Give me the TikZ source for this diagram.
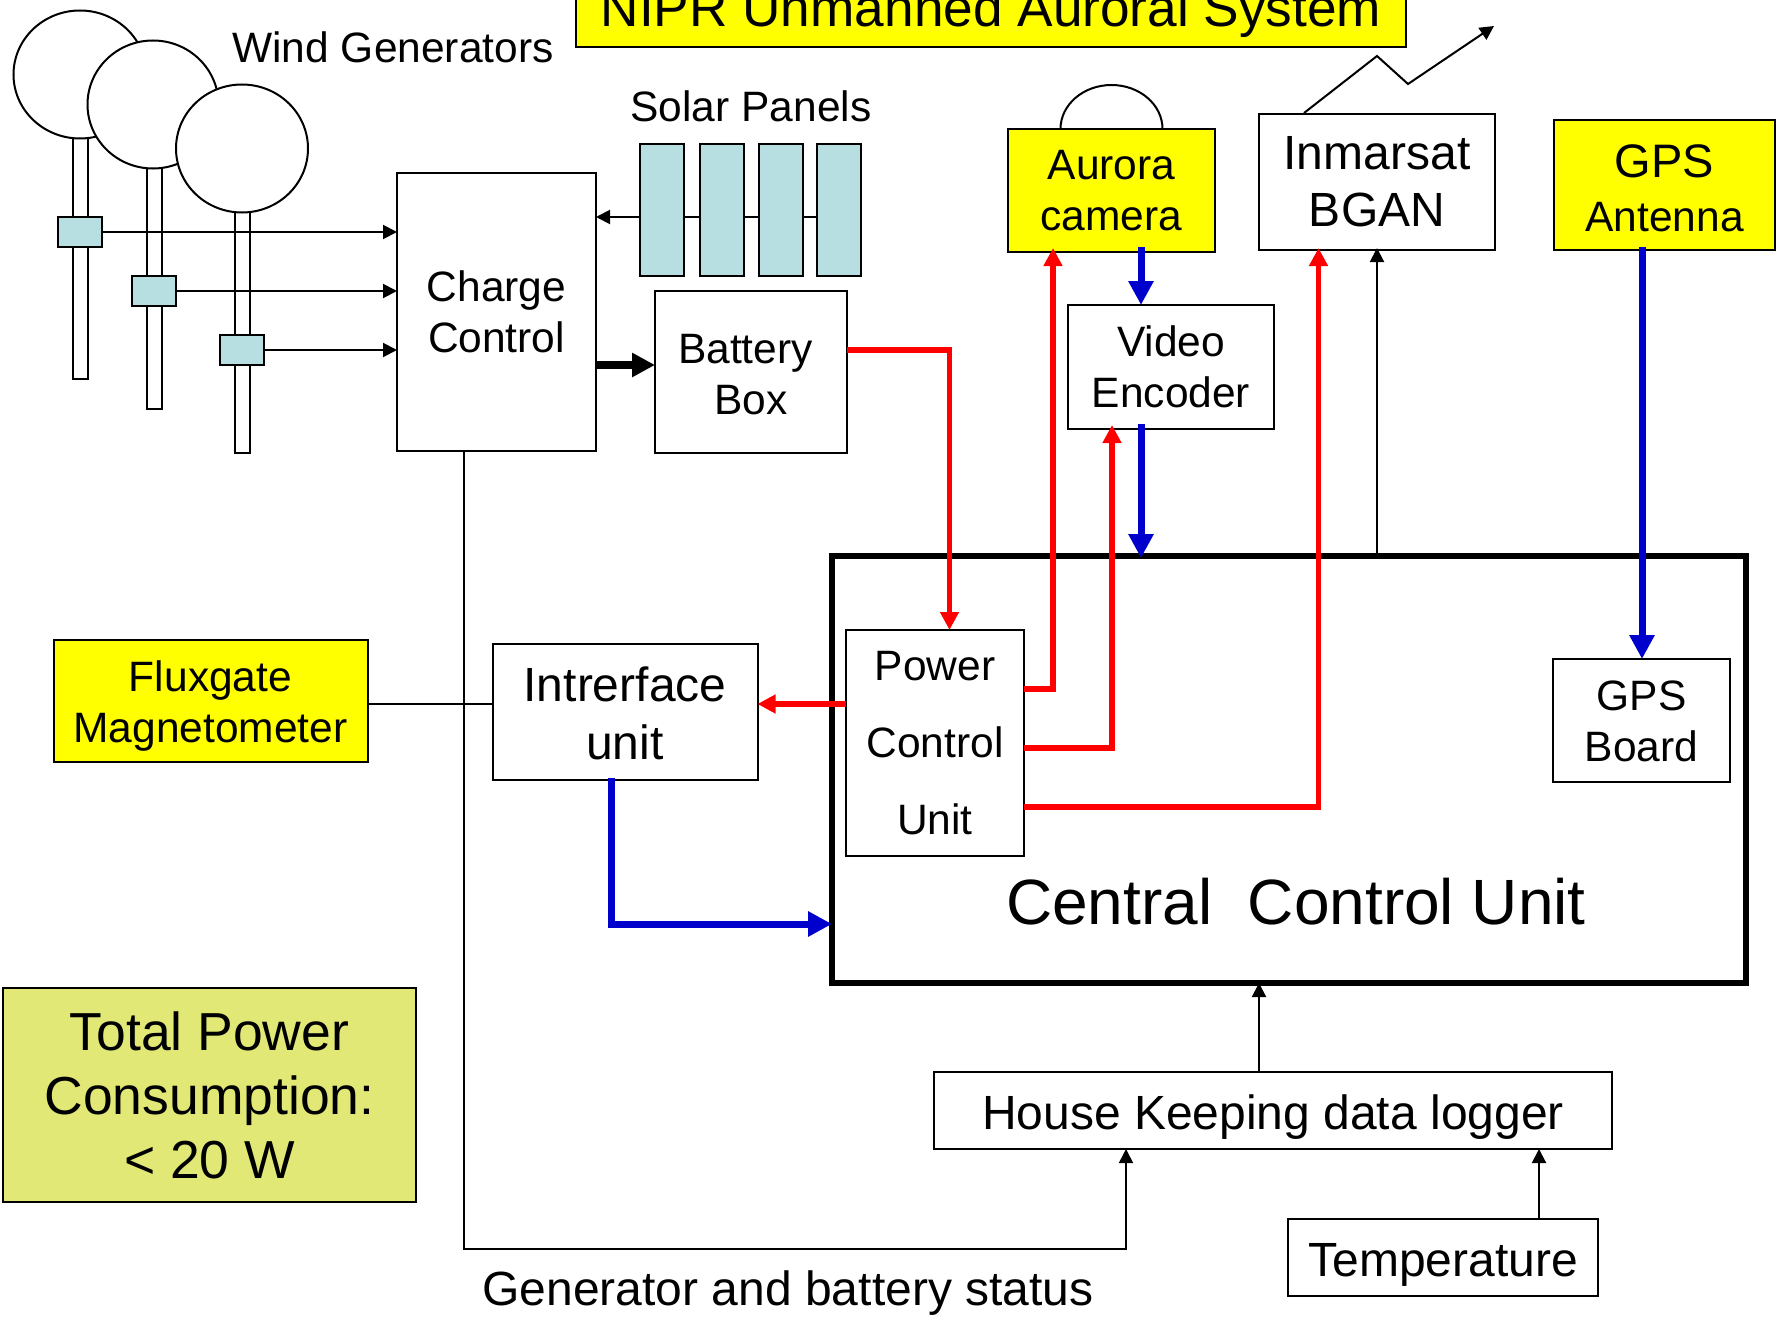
\documentclass[tikz,border=0pt]{standalone}
\usepackage{fontspec}
\setmainfont{Liberation Sans}
\usetikzlibrary{arrows.meta,shapes.geometric,calc}
\definecolor{panelc}{HTML}{B7DEE1}
\definecolor{totalc}{HTML}{E1E875}
\definecolor{yellowc}{HTML}{FFFF00}
\definecolor{redc}{HTML}{FF0000}
\definecolor{bluec}{HTML}{0000CC}
\newcommand{\dnshift}[1]{\rule{0pt}{\dimexpr 0.73em+2\dimexpr #1\relax\relax}}
\tikzset{
  fa/.style={font=\fontsize{42.5}{51}\selectfont},
  fb/.style={font=\fontsize{48}{57}\selectfont},
  box/.style={draw=black,line width=2pt,fill=white,inner sep=0pt,outer sep=0pt,align=center},
  ybox/.style={box,fill=yellowc},
  tbox/.style={draw=black,line width=2pt,fill=panelc,inner sep=0pt,outer sep=0pt},
  wheel/.style={draw=black,line width=2pt,fill=white,ellipse,inner sep=0pt,outer sep=0pt},
  thin arrow/.style={draw=black,line width=2pt,-{Triangle[length=14pt,width=14pt]}},
  thin line/.style={draw=black,line width=2pt},
  red arrow/.style={draw=redc,line width=5.5pt,-{Triangle[length=18pt,width=18pt]}},
  blue arrow/.style={draw=bluec,line width=7pt,-{Triangle[length=24pt,width=24pt]}},
}
\begin{document}
\begin{tikzpicture}[x=1pt,y=-1pt]
\path[use as bounding box,clip] (0,0) rectangle (1778,1319);
\fill[white] (0,0) rectangle (1778,1319);
% title
\node[ybox,minimum width=830pt,minimum height=87pt] (title) at (991,3.5) {};
\node[font=\fontsize{53.2}{60}\selectfont,anchor=base] (titletxt) at (991,26.5) {NIPR Unmanned Auroral System};
% wind generators
\node[box,minimum width=15pt,minimum height=250pt] (pole1) at (80.5,254) {};
\node[wheel,minimum width=133pt,minimum height=128pt] (e1) at (80,74.5) {};
\node[box,minimum width=15pt,minimum height=250pt] (pole2) at (154,284) {};
\node[wheel,minimum width=131pt,minimum height=128pt] (e2) at (153,104.5) {};
\node[box,minimum width=15pt,minimum height=250pt] (pole3) at (242.5,328) {};
\node[wheel,minimum width=132pt,minimum height=128pt] (e3) at (242,148.5) {};
\node[fa,anchor=base] (windl) at (393,63) {Wind Generators};
\node[fa,anchor=base] (solarl) at (751,122) {Solar Panels};
% boxes
\node[box,fa,minimum width=199pt,minimum height=278pt] (charge) at (496.5,312) {Charge\\Control};
\node[box,fa,minimum width=192pt,minimum height=162pt] (battery) at (751,372) {\dnshift{1.5pt}Battery\hspace*{11pt}\\Box};
\foreach \n/\x in {p1/662,p2/721.5,p3/780.5,p4/839}
  \node[tbox,minimum width=44pt,minimum height=132pt] (\n) at (\x,210) {};
\node[tbox,minimum width=44pt,minimum height=30pt] (g1) at (80,232) {};
\node[tbox,minimum width=44pt,minimum height=30pt] (g2) at (153.5,291) {};
\node[tbox,minimum width=44pt,minimum height=30pt] (g3) at (242,350) {};
\draw[thin arrow] (g1.east) -- (g1.east -| charge.west);
\draw[thin arrow] (g2.east) -- (g2.east -| charge.west);
\draw[thin arrow] (g3.east) -- (g3.east -| charge.west);
\coordinate (sp) at (750,217);
\draw[thin arrow] (p1.west |- sp) -- (charge.east |- sp);
\draw[draw=black,line width=2.5pt] (p1.east |- sp) -- (p2.west |- sp) (p2.east |- sp) -- (p3.west |- sp) (p3.east |- sp) -- (p4.west |- sp);
\coordinate (cb) at (620,365);
\draw[draw=black,line width=8pt,-{Triangle[length=23pt,width=23pt]}] (charge.east |- cb) -- (battery.west |- cb);
% central
\node[box,line width=6pt,minimum width=914pt,minimum height=427pt] (ccu) at (1289,769.5) {};
\node[font=\fontsize{64}{70}\selectfont,anchor=base] (ccutxt) at (1296,924) {Central\ \ Control Unit};
\node[box,fa,minimum width=178pt,minimum height=226pt,font=\fontsize{42.5}{77}\selectfont] (pcu) at (935,743) {Power\\Control\\Unit};
\node[box,fa,minimum width=177pt,minimum height=123pt] (gpsb) at (1641.5,720.5) {\dnshift{0.5pt}GPS\\Board};
\node[box,fb,minimum width=265pt,minimum height=136pt] (iface) at (625,712) {\dnshift{1pt}Intrerface\\[1pt]unit};
\node[ybox,fa,minimum width=314pt,minimum height=122pt] (flux) at (210.5,701) {\dnshift{4.5pt}Fluxgate\\Magnetometer};
\node[box,fill=totalc,font=\fontsize{53.5}{64}\selectfont,minimum width=413pt,minimum height=214pt] (total) at (209.5,1095) {Total Power\\Consumption:\\< 20 W};
\node[box,fb,minimum width=678pt,minimum height=77pt] (logger) at (1273,1110.5) {\dnshift{6.5pt}House Keeping data logger};
\node[box,fb,minimum width=310pt,minimum height=77pt] (temp) at (1443,1257.5) {\dnshift{6.5pt}Temperature};
\node[font=\fontsize{48}{57}\selectfont,anchor=base] (statusl) at (788,1305) {Generator and battery status};
% top devices
\draw[draw=black,line width=2pt] (1060.5,129) arc[start angle=180,end angle=0,x radius=51pt,y radius=44pt];
\node[ybox,fa,minimum width=207pt,minimum height=123pt] (aurora) at (1111.5,190.5) {Aurora\\camera};
\node[box,fb,minimum width=236pt,minimum height=136pt] (inm) at (1377,182) {Inmarsat\\BGAN};
\node[ybox,font=\fontsize{42.5}{54}\selectfont,minimum width=221pt,minimum height=130pt] (gpsa) at (1664.5,185) {\rule{0pt}{39pt}{\fontsize{47}{54}\selectfont GPS}\\Antenna};
\node[box,fa,minimum width=206pt,minimum height=124pt] (video) at (1171,367) {Video\\Encoder};
% thin connectors
\coordinate (zs) at (1304,113);
\coordinate (z1) at (1377,56);
\coordinate (z2) at (1408,84);
\coordinate (z3) at (1494,26);
\draw[thin arrow,line join=miter] (zs) -- (z1) -- (z2) -- (z3);
\coordinate (xa) at (1377,500);
\draw[thin arrow,shorten >=-2pt] (ccu.north -| xa) -- (inm.south -| xa);
\coordinate (fi) at (430,703.5);
\draw[thin line] (flux.east |- fi) -- (iface.west |- fi);
\coordinate (st1) at (464,1249);
\coordinate (st2) at (1126,1249);
\draw[thin arrow,line width=1.6pt] (charge.south -| st1) -- (st1) -- (st2) -- (logger.south -| st2);
\coordinate (lc) at (1259,1030);
\draw[thin arrow] (logger.north -| lc) -- (ccu.south -| lc);
\coordinate (tl) at (1539,1200);
\draw[thin arrow] (temp.north -| tl) -- (logger.south -| tl);
% red
\coordinate (ra) at (949.5,350);
\draw[red arrow,line join=miter] (battery.east |- ra) -- (ra) -- (pcu.north -| ra);
\coordinate (rb) at (1053,689);
\draw[red arrow,shorten >=-4pt] (pcu.east |- rb) -- (rb) -- (aurora.south -| rb);
\coordinate (rc) at (1112,748);
\draw[red arrow,shorten >=-4pt] (pcu.east |- rc) -- (rc) -- (video.south -| rc);
\coordinate (rd) at (1318.5,807);
\draw[red arrow,shorten >=-2pt] (pcu.east |- rd) -- (rd) -- (inm.south -| rd);
\coordinate (re) at (800,704);
\draw[red arrow] (pcu.west |- re) -- (iface.east |- re);
% blue
\coordinate (ba) at (1141,280);
\draw[blue arrow,shorten <=-5pt] (aurora.south -| ba) -- (video.north -| ba);
\draw[blue arrow,shorten <=-5pt,shorten >=-2pt] (video.south -| ba) -- (ccu.north -| ba);
\coordinate (bb) at (1642,500);
\draw[blue arrow,shorten <=-3pt] (gpsa.south -| bb) -- (gpsb.north -| bb);
\coordinate (bc) at (611,924);
\draw[blue arrow,shorten <=-2pt] (iface.south -| bc) -- (bc) -- (ccu.west |- bc);
\end{tikzpicture}
\end{document}
